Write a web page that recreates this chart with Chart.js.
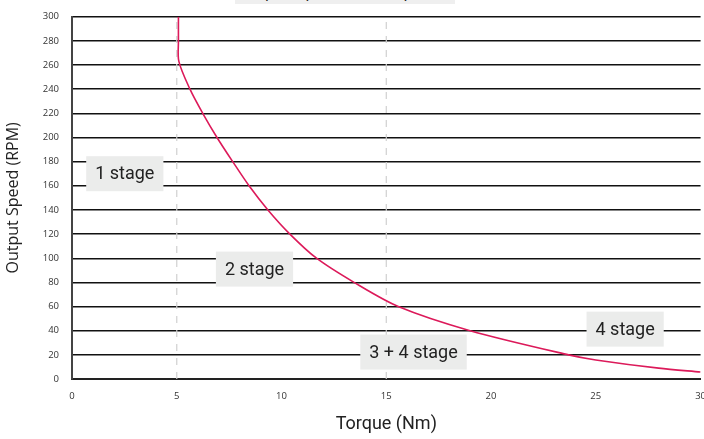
<!DOCTYPE html>
<html>
<head>
<meta charset="utf-8">
<script src="https://cdn.jsdelivr.net/npm/chart.js@4.4.0/dist/chart.umd.min.js"></script>
<style>
  html, body { margin: 0; padding: 0; background: #fff; overflow: hidden; }
  #wrap { position: relative; width: 718px; height: 441px; margin-top: -2px; }
  #topTitle {
    position: absolute; left: 235px; top: -17px; width: 220px; height: 23px;
    background: #efefef; font: 17px 'Open Sans', sans-serif; color: #222;
    text-align: center; line-height: 20px; white-space: nowrap; overflow: hidden;
  }
</style>
</head>
<body>
<div id="wrap">
  <canvas id="speedChart" width="718" height="441"></canvas>
  <div id="topTitle">Output Speed vs Torque (Gearbox)</div>
</div>
<script>
// Torque / speed curve
const torque = [5.08, 5.08, 5.1, 5.63, 6.24, 6.92, 7.67, 8.45, 9.35, 10.4, 11.67, 13.46, 15.57, 19.0, 23.7, 25.0, 28.0, 30.0];
const speed  = [300, 280, 263, 240, 220, 200, 180, 160, 140, 120, 100, 80, 60, 40, 20, 15.8, 9, 5.8];

// dashed stage boundaries
const stageLimits = [5, 15];

// stage labels (data units)
const stageNames = ['1 stage', '2 stage', '3 + 4 stage', '4 stage'];
const stageX = [2.52, 8.71, 16.3, 26.4];
const stageY = [170, 91, 22.3, 41.3];

const xTicks = [0, 5, 10, 15, 20, 25, 30];

const stageLabelPlugin = {
    id: 'stageLabels',
    afterDatasetsDraw(chart) {
        const ctx = chart.ctx;
        const xs = chart.scales.x, ys = chart.scales.y;
        ctx.save();
        ctx.font = '18px Roboto, sans-serif';
        ctx.textAlign = 'center';
        ctx.textBaseline = 'middle';
        stageNames.forEach((name, i) => {
            const cx = xs.getPixelForValue(stageX[i]);
            const cy = ys.getPixelForValue(stageY[i]);
            const w = ctx.measureText(name).width + 18;
            const h = 35;
            ctx.fillStyle = '#ebeceb';
            ctx.fillRect(cx - w / 2, cy - h / 2, w, h);
            ctx.fillStyle = '#222';
            ctx.fillText(name, cx, cy + 1);
        });
        ctx.restore();
    }
};

const datasets = stageLimits.map(v => ({
    data: [{ x: v, y: 0 }, { x: v, y: 300 }],
    borderColor: '#d0d0d0',
    borderWidth: 1.2,
    borderDash: [7, 7],
    pointRadius: 0,
    order: 2
}));

datasets.push({
    data: torque.map((t, i) => ({ x: t, y: speed[i] })),
    borderColor: '#dc1a5a',
    borderWidth: 1.6,
    pointRadius: 0,
    tension: 0.3,
    order: 1
});

new Chart(document.getElementById('speedChart'), {
    type: 'line',
    data: { datasets },
    options: {
        responsive: false,
        animation: false,
        layout: { padding: { top: 12, right: 0, left: 0, bottom: 0 } },
        plugins: { legend: { display: false }, tooltip: { enabled: false } },
        scales: {
            x: {
                type: 'linear',
                min: 0, max: 30,
                afterBuildTicks: s => { s.ticks = xTicks.map(v => ({ value: v })); },
                afterFit: s => { s.height = 60; },
                grid: { display: false, drawTicks: false },
                border: { display: true, color: '#222', width: 2 },
                ticks: { color: '#333', font: { family: 'Open Sans', size: 9.5 }, padding: 12, maxRotation: 0 },
                title: { display: true, text: 'Torque (Nm)', color: '#222', font: { family: 'Roboto', size: 18 }, padding: { top: 14 } }
            },
            y: {
                min: 0, max: 300,
                afterFit: s => { s.width = 72; },
                grid: { color: '#111', lineWidth: 1.4, drawTicks: false },
                border: { display: true, color: '#444', width: 2 },
                ticks: { stepSize: 20, color: '#333', font: { family: 'Open Sans', size: 9.5 }, padding: 13 },
                title: { display: true, text: 'Output Speed (RPM)', color: '#222', font: { family: 'Open Sans', size: 16 }, padding: { bottom: 2 } }
            }
        }
    },
    plugins: [stageLabelPlugin]
});
</script>
</body>
</html>
